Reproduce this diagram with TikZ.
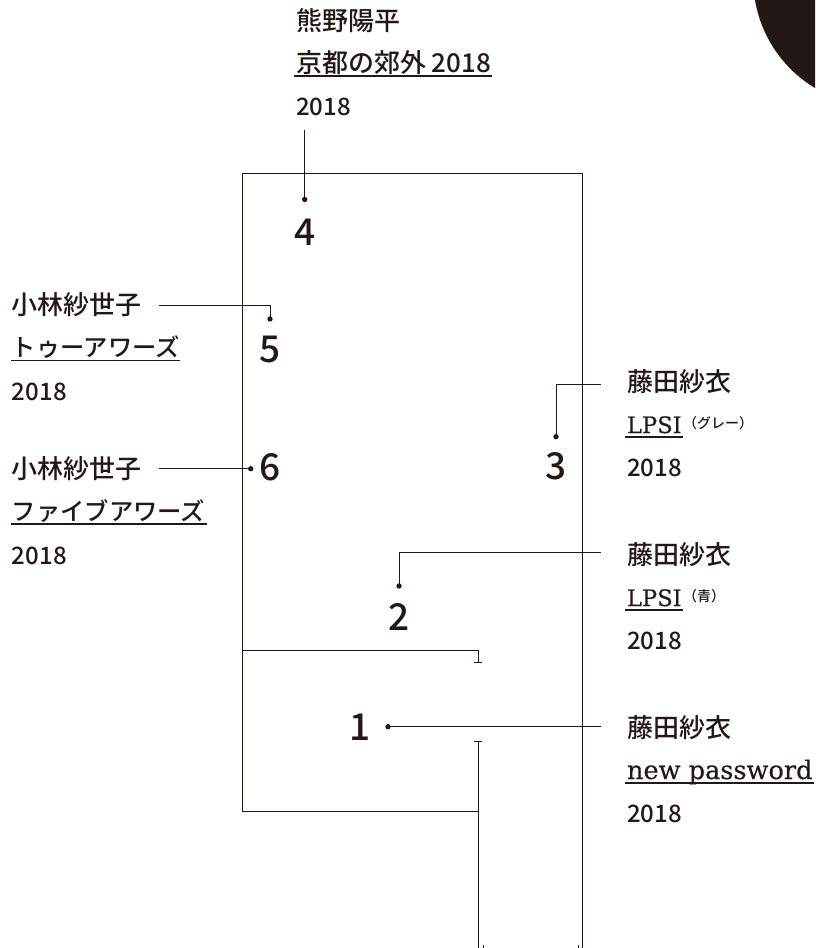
\documentclass[tikz,border=0pt]{standalone}
\usepackage{fontspec}
\setmainfont{Noto Sans CJK JP Medium}
\newfontfamily\slabfont[FakeBold=0.35]{DejaVu Serif}
\newfontfamily\numfont{Noto Sans CJK JP Medium}
\definecolor{ink}{HTML}{231815}
\tikzset{
  lbl/.style={inner sep=0pt,outer sep=0pt,anchor=base west,text=ink},
  kanji/.style={lbl,font=\fontsize{26}{26}\selectfont},
  kana/.style={lbl,font=\fontsize{24.3}{26}\selectfont},
  yeartext/.style={lbl,font=\fontsize{24}{26}\selectfont},
  slabtext/.style={lbl,font=\fontsize{22.6}{26}\slabfont},
  slablong/.style={lbl,font=\fontsize{25.6}{26}\slabfont},
  smalltext/.style={lbl,font=\fontsize{14}{14}\selectfont},
  numeral/.style={inner sep=0pt,outer sep=0pt,anchor=base,text=ink,font=\fontsize{37}{38}\numfont},
  dotmark/.style={circle,fill=ink,inner sep=0pt,minimum size=5.4pt},
  wire/.style={draw=ink,line width=0.9pt},
  ulbar/.style={draw=ink,line width=1.6pt},
}
\begin{document}
\begin{tikzpicture}[x=1pt,y=-1pt]
\useasboundingbox (0,0) rectangle (815,948);
\begin{scope}
\clip (0,0) rectangle (815,948);
\fill[ink] (880.8,-21.3) circle (127.6);
\end{scope}
% frame
\coordinate (f1) at (478.3,948);
\coordinate (f2) at (478.3,741.7);
\coordinate (f3) at (242,811.5);
\coordinate (f4) at (242,650);
\coordinate (f5) at (478.3,662);
\coordinate (f6) at (582.6,948);
\coordinate (f7) at (242,173.5);
\draw[wire] (f3) -- (f7) -- (f7 -| f6) -- (f6);
\draw[wire] (f4) -| (f5);
\draw[wire] (f3) -- (f3 -| f1);
\draw[wire] (f2) -- (f1);
\draw[wire] ([xshift=-4pt]f2) -- ([xshift=4pt]f2);
\draw[wire] ([xshift=-4pt]f5) -- ([xshift=4pt]f5);
\coordinate (t1) at (483,945);
\coordinate (t2) at (578,945);
\draw[wire,line width=0.6pt] (t1) -- (t1 |- f1);
\draw[wire,line width=0.6pt] (t2) -- (t2 |- f1);
% top label
\node[kanji] (a1) at (296,30) {熊野陽平};
\node[kanji] (a2) at (296,72) {京都の郊外 2018};
\node[yeartext] (a3) at (296,115.5) {2018};
\draw[ulbar] ([xshift=-2pt,yshift=-4pt]a2.base west) -- ([xshift=1pt,yshift=-4pt]a2.base east);
% left labels
\node[kanji] (b1) at (12,314) {小林紗世子};
\node[kana] (b2) at (12,356) {トゥーアワーズ};
\node[yeartext] (b3) at (12,400) {2018};
\draw[ulbar] ([xshift=-1pt,yshift=-4.5pt]b2.base west) -- ([xshift=0pt,yshift=-4.5pt]b2.base east);
\node[kanji] (c1) at (12,478) {小林紗世子};
\node[kana] (c2) at (12,520) {ファイブアワーズ};
\node[yeartext] (c3) at (12,564) {2018};
\draw[ulbar] ([xshift=-1pt,yshift=-4pt]c2.base west) -- ([xshift=2pt,yshift=-4pt]c2.base east);
% right labels
\node[kanji] (d1) at (627,391) {藤田紗衣};
\node[slabtext] (d2) at (627,433) {LPSI};
\node[smalltext] (d2s) at (683,428.5) {（グレー）};
\node[yeartext] (d3) at (627,476.7) {2018};
\draw[ulbar] ([xshift=-2pt,yshift=-4pt]d2.base west) -- ([xshift=1pt,yshift=-4pt]d2.base east);
\node[kanji] (e1) at (627,564) {藤田紗衣};
\node[slabtext] (e2) at (627,606) {LPSI};
\node[smalltext] (e2s) at (683,601.5) {（青）};
\node[yeartext] (e3) at (627,649) {2018};
\draw[ulbar] ([xshift=-2pt,yshift=-4pt]e2.base west) -- ([xshift=1pt,yshift=-4pt]e2.base east);
\node[kanji] (g1) at (627,737) {藤田紗衣};
\node[slablong] (g2) at (627,779) {new password};
\node[yeartext] (g3) at (627,822) {2018};
\draw[ulbar] ([xshift=-2pt,yshift=-4pt]g2.base west) -- ([xshift=1pt,yshift=-4pt]g2.base east);
% numerals
\node[numeral] (n1) at (360,740.5) {1};
\node[numeral] (n2) at (399,630) {2};
\node[numeral] (n3) at (556,479) {3};
\node[numeral] (n4) at (304.7,245.5) {4};
\node[numeral] (n5) at (270,362) {5};
\node[numeral] (n6) at (270,480) {6};
% dots
\node[dotmark] (p1) at (388,726.7) {};
\node[dotmark] (p2) at (399,586) {};
\node[dotmark] (p3) at (556,436.7) {};
\node[dotmark] (p4) at (304.7,199.5) {};
\node[dotmark] (p5) at (270,319) {};
\node[dotmark] (p6) at (250.7,468.7) {};
% connector ends
\coordinate (q1) at (601,726.7);
\coordinate (q2) at (601,552.7);
\coordinate (q3) at (601,384.3);
\coordinate (q4) at (304.7,130);
\coordinate (q5) at (158.7,305);
\coordinate (q6) at (158.7,468.7);
\draw[wire] (q1) -- (p1.center);
\draw[wire] (q2) -| (p2.center);
\draw[wire] (q3) -| (p3.center);
\draw[wire] (q4) -- (p4.center);
\draw[wire] (q5) -| (p5.center);
\draw[wire] (q6) -- (p6.center);
\end{tikzpicture}
\end{document}
